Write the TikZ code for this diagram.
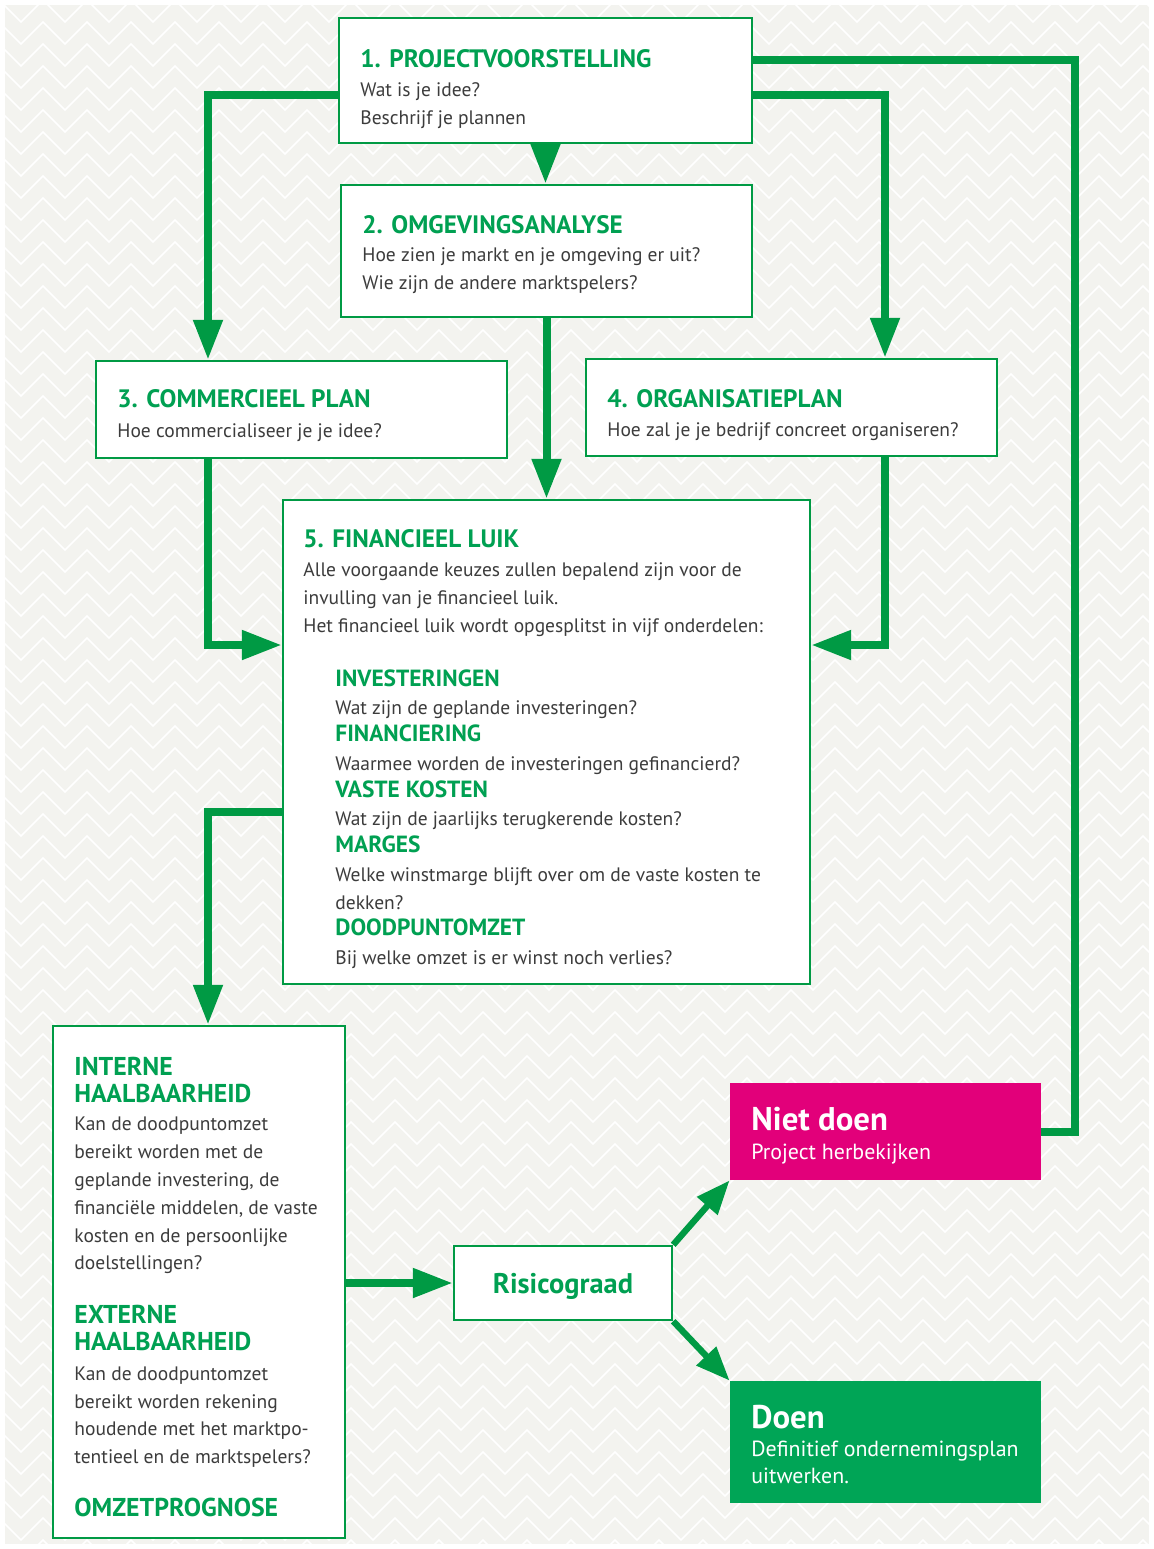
\documentclass[tikz,border=0pt]{standalone}
\usepackage{fontspec}
\setmainfont{PT Sans}
\usetikzlibrary{arrows.meta,fit}
\definecolor{grn}{HTML}{009A44}
\definecolor{ttl}{HTML}{00A052}
\definecolor{txt}{HTML}{3C3C3C}
\definecolor{mag}{HTML}{E2007A}
\definecolor{dgrn}{HTML}{00A556}
\definecolor{bgc}{HTML}{F3F3EF}
\begin{document}
\begin{tikzpicture}[x=0.5pt,y=-0.5pt,
  box/.style={draw=grn,line width=1.2pt,fill=white,inner sep=0pt},
  tt/.style={anchor=base west,inner sep=0pt,text=ttl,font=\fontsize{12.6}{14}\selectfont\bfseries},
  sub/.style={anchor=base west,inner sep=0pt,text=ttl,font=\fontsize{11.7}{13}\selectfont\bfseries},
  hsub/.style={anchor=base west,inner sep=0pt,text=ttl,font=\fontsize{12.9}{14}\selectfont\bfseries},
  bd/.style={anchor=base west,inner sep=0pt,text=txt,font=\fontsize{9.75}{11}\selectfont},
  wtt/.style={anchor=base west,inner sep=0pt,text=white,font=\fontsize{16.4}{18}\selectfont\bfseries},
  wbd/.style={anchor=base west,inner sep=0pt,text=white,font=\fontsize{10.95}{12}\selectfont},
  conn/.style={draw=grn,line width=4pt},
  arr/.style={conn,-{Triangle[length=20pt,width=14pt]}},
  darr/.style={draw=grn,line width=3.2pt,-{Triangle[length=17pt,width=13pt]}}]
\useasboundingbox (0,0) rectangle (1154,1549);
\fill[bgc] (5,5) rectangle (1149,1544);
\begin{scope}
\clip (5,5) rectangle (1149,1544);
\foreach \r in {0,...,70}{
  \draw[white,line width=0.8pt] (-23,\r*22+22) \foreach \i in {1,...,27}{ -- ++(22,-22) -- ++(22,22) };
}
\end{scope}

% boxes
\node[box,fit={(339,18)(752,143)}] (b1) {};
\node[box,fit={(341,185)(752,317)}] (b2) {};
\node[box,fit={(96,361)(507,458)}] (b3) {};
\node[box,fit={(586,359)(997,456)}] (b4) {};
\node[box,fit={(283,500)(810,984)}] (b5) {};
\node[box,fit={(53,1026)(345,1538)}] (b6) {};
\node[box,fit={(454,1246)(672,1320)}] (risk) {};
\node[fill=mag,inner sep=0pt,fit={(730,1083)(1041,1180)}] (niet) {};
\node[fill=dgrn,inner sep=0pt,fit={(730,1381)(1041,1503)}] (doen) {};

% connectors
\coordinate (p1) at (208,95);
\coordinate (p2) at (1075,60);
\coordinate (p3) at (885,95);
\coordinate (p6) at (208,645);
\coordinate (p7) at (885,645);
\coordinate (p8) at (208,812);
\draw[arr] (b1.west |- p1) -| (b3.north -| p1);
\draw[conn] (b1.east |- p2) -- (p2) |- (niet.east);
\draw[arr] (b1.east |- p3) -| (b4.north -| p3);
\draw[arr] (b1.south) -- (b1.south |- b2.north);
\draw[arr] (b2.south) -- (b2.south |- b5.north);
\draw[arr] (b3.south -| p6) |- (b5.west |- p6);
\draw[arr] (b4.south -| p7) |- (b5.east |- p7);
\draw[arr] (b5.west |- p8) -| (b6.north -| p8);
\draw[arr] (b6.east |- risk.west) -- (risk.west);
\draw[darr] (risk.north east) -- (niet.south west);
\draw[darr] (risk.south east) -- (doen.north west);

% texts
\node[tt] (t1) at (360,67) {1. PROJECTVOORSTELLING};
\node[bd] (t1a) at (360,96) {Wat is je idee?};
\node[bd] (t1b) at (360,124) {Beschrijf je plannen};

\node[tt] (t2) at (362,233) {2. OMGEVINGSANALYSE};
\node[bd] (t2a) at (362,261) {Hoe zien je markt en je omgeving er uit?};
\node[bd] (t2b) at (362,289) {Wie zijn de andere marktspelers?};

\node[tt] (t3) at (117,407) {3. COMMERCIEEL PLAN};
\node[bd] (t3a) at (117,437) {Hoe commercialiseer je je idee?};

\node[tt] (t4) at (607,407) {4. ORGANISATIEPLAN};
\node[bd] (t4a) at (607,436) {Hoe zal je je bedrijf concreet organiseren?};

\node[tt] (t5) at (303,547) {5. FINANCIEEL LUIK};
\node[bd] (t5a) at (303,576) {Alle voorgaande keuzes zullen bepalend zijn voor de};
\node[bd] (t5b) at (303,604) {invulling van je financieel luik.};
\node[bd] (t5c) at (303,632) {Het financieel luik wordt opgesplitst in vijf onderdelen:};
\node[sub] (s1) at (335,686) {INVESTERINGEN};
\node[bd] (s1a) at (335,714) {Wat zijn de geplande investeringen?};
\node[sub] (s2) at (335,741) {FINANCIERING};
\node[bd] (s2a) at (335,770) {Waarmee worden de investeringen gefinancierd?};
\node[sub] (s3) at (335,797) {VASTE KOSTEN};
\node[bd] (s3a) at (335,825) {Wat zijn de jaarlijks terugkerende kosten?};
\node[sub] (s4) at (335,852) {MARGES};
\node[bd] (s4a) at (335,881) {Welke winstmarge blijft over om de vaste kosten te};
\node[bd] (s4b) at (335,909) {dekken?};
\node[sub] (s5) at (335,935) {DOODPUNTOMZET};
\node[bd] (s5a) at (335,964) {Bij welke omzet is er winst noch verlies?};

\node[hsub] (h1) at (74,1075) {INTERNE};
\node[hsub] (h1b) at (74,1102) {HAALBAARHEID};
\node[bd] (h1c) at (74,1130) {Kan de doodpuntomzet};
\node[bd] (h1d) at (74,1158) {bereikt worden met de};
\node[bd] (h1e) at (74,1186) {geplande investering, de};
\node[bd] (h1f) at (74,1214) {financiële middelen, de vaste};
\node[bd] (h1g) at (74,1242) {kosten en de persoonlijke};
\node[bd] (h1h) at (74,1269) {doelstellingen?};
\node[hsub] (h2) at (74,1323) {EXTERNE};
\node[hsub] (h2b) at (74,1350) {HAALBAARHEID};
\node[bd] (h2c) at (74,1380) {Kan de doodpuntomzet};
\node[bd] (h2d) at (74,1408) {bereikt worden rekening};
\node[bd] (h2e) at (74,1435) {houdende met het marktpo-};
\node[bd] (h2f) at (74,1463) {tentieel en de marktspelers?};
\node[hsub] (h3) at (74,1516) {OMZETPROGNOSE};

\node[anchor=base,inner sep=0pt,text=ttl,font=\fontsize{14.2}{16}\selectfont\bfseries] (rt) at (563,1293) {Risicograad};

\node[wtt] (nt) at (751,1130) {Niet doen};
\node[wbd] (na) at (751,1159) {Project herbekijken};
\node[wtt] (dt) at (751,1428) {Doen};
\node[wbd] (da) at (751,1456) {Definitief ondernemingsplan};
\node[wbd] (db) at (751,1483) {uitwerken.};
\end{tikzpicture}
\end{document}
